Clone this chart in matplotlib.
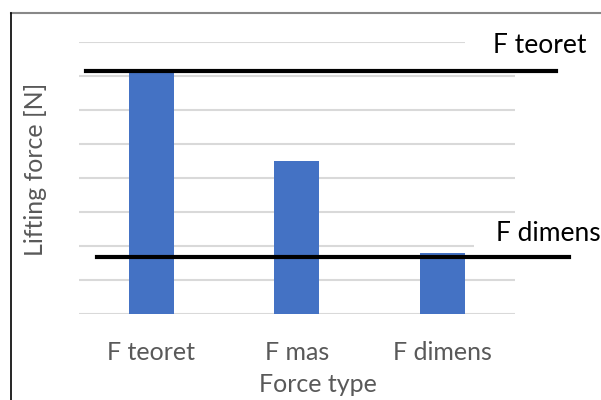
import matplotlib
matplotlib.use('Agg')
import matplotlib.pyplot as plt
from matplotlib.lines import Line2D
from matplotlib.patches import Rectangle

plt.rcParams['font.family'] = ['Lato', 'DejaVu Sans']

# data
categories = ['F teoret', 'F mas', 'F dimens']
forces = [7.2, 4.5, 1.79]
ref_names = ['F teoret', 'F dimens']
ref_values = [7.15, 1.68]

W, H = 601, 400
fig = plt.figure(figsize=(W / 100, H / 100), dpi=100)
ax = fig.add_axes([78.5 / W, 1 - 313.7 / H, (515 - 78.5) / W, (313.7 - 41.7) / H])

x = list(range(len(categories)))
ax.bar(x, forces, width=0.31, color='#4472C4', zorder=2)

ax.set_xlim(-0.5, 2.5)
ax.set_ylim(0, 8)
ax.set_yticks(range(0, 9))
ax.yaxis.grid(True, color='#D9D9D9', linewidth=1.5)
ax.set_axisbelow(True)
ax.set_yticklabels([])
ax.set_xticks(x)
ax.set_xticklabels(categories, fontsize=18, color='#595959')
ax.tick_params(length=0, pad=20)
for s in ax.spines.values():
    s.set_visible(False)

ax.set_xlabel('Force type', fontsize=18, color='#595959', va='center')
ax.xaxis.set_label_coords(0.548, -0.261)
ax.set_ylabel('Lifting force [N]', fontsize=18, color='#595959')
ax.yaxis.set_label_coords(-0.072, 0.532)

# white boxes behind the line labels (hide gridline ends)
for x0, y0, x1, y1 in [(465, 36, 601, 48), (474, 240, 601, 251)]:
    ax.add_patch(Rectangle((x0 / W, 1 - y1 / H), (x1 - x0) / W, (y1 - y0) / H,
                           transform=fig.transFigure, facecolor='white',
                           edgecolor='none', zorder=1, clip_on=False))

# reference lines and labels
line_spans = [(-0.448, 2.782), (-0.376, 2.871)]
label_pos = [(2.349, 7.9), (2.369, 2.37)]
for name, val, (a, b), (tx, ty) in zip(ref_names, ref_values, line_spans, label_pos):
    ax.plot([a, b], [val, val], color='black', linewidth=3, clip_on=False, zorder=5)
    ax.text(tx, ty, name, fontsize=19, color='black', va='center', ha='left', zorder=6)

# frame of the screenshot
fig.add_artist(Line2D([11 / W, 1], [1 - 13 / H, 1 - 13 / H], color='#888888', linewidth=1.5))
fig.add_artist(Line2D([11 / W, 11 / W], [0, 1 - 13 / H], color='black', linewidth=1.2))

fig.savefig('out.png', dpi=100)
